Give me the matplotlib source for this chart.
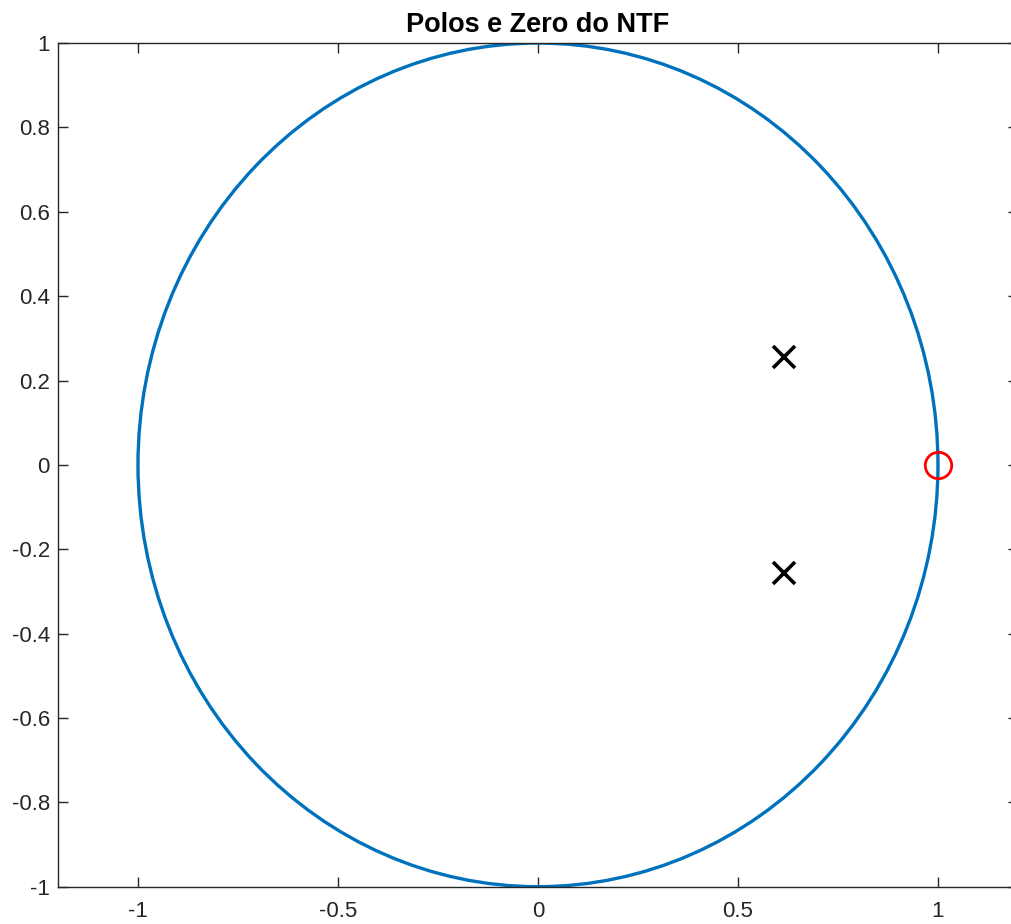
import matplotlib
matplotlib.use("Agg")
import matplotlib.pyplot as plt
from matplotlib.patches import Circle

# Data
pole_re = [0.615, 0.615]
pole_im = [0.256, -0.256]
zero_re = [1.0]
zero_im = [0.0]
circle_center = (0.0, 0.0)
circle_radius = 1.0
xticks = [-1, -0.5, 0, 0.5, 1]
xticklabels = ["-1", "-0.5", "0", "0.5", "1"]
yticks = [-1, -0.8, -0.6, -0.4, -0.2, 0, 0.2, 0.4, 0.6, 0.8, 1]
yticklabels = ["-1", "-0.8", "-0.6", "-0.4", "-0.2", "0", "0.2", "0.4", "0.6", "0.8", "1"]
title = "Polos e Zero do NTF"

plt.rcParams['font.family'] = ['Liberation Sans', 'DejaVu Sans']

fig = plt.figure(figsize=(10.12, 9.24), dpi=100)
ax = fig.add_axes([0.0573, 0.0404, 0.9486, 0.913])

ax.add_patch(Circle(circle_center, circle_radius, fill=False,
                    edgecolor='#0072BD', linewidth=2.4, zorder=2))
ax.plot(zero_re, zero_im, 'o', markerfacecolor='none', markeredgecolor='#FF0000',
        markersize=19, markeredgewidth=2.0, linestyle='none', zorder=3)
ax.plot(pole_re, pole_im, 'x', color='black', markersize=16,
        markeredgewidth=2.6, linestyle='none', zorder=3)

ax.set_xlim(-1.2, 1.2)
ax.set_ylim(-1, 1)
ax.set_xticks(xticks)
ax.set_xticklabels(xticklabels)
ax.set_yticks(yticks)
ax.set_yticklabels(yticklabels)

ax.tick_params(direction='in', length=7.5, width=1.0, top=True, right=True,
               colors='#262626', labelsize=16)
ax.tick_params(axis='x', pad=10)
ax.tick_params(axis='y', pad=5.8)
for s in ax.spines.values():
    s.set_color('#262626')
    s.set_linewidth(1.0)

ax.set_title(title, fontsize=19.5, fontweight='bold', color='black', pad=8)

fig.savefig("out.png", dpi=100)
